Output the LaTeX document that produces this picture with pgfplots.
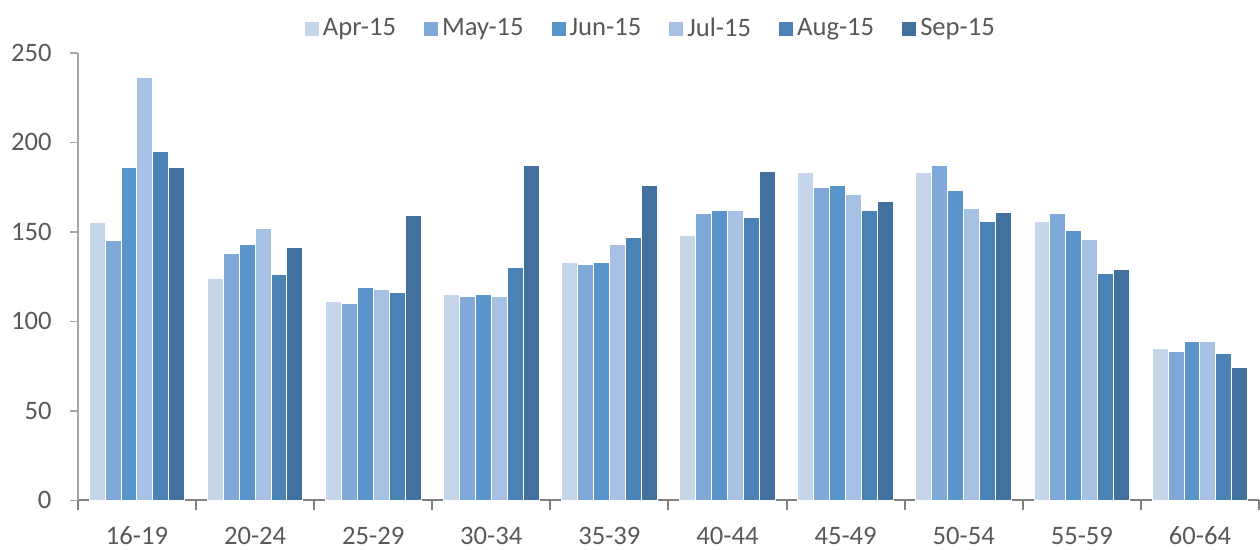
\documentclass[border=0pt]{standalone}
\usepackage{pgfplots}
\pgfplotsset{compat=1.18}
\usepackage{fontspec}
\setmainfont{Carlito}

\definecolor{cApr}{HTML}{C5D5EA}
\definecolor{cMay}{HTML}{7EA9D9}
\definecolor{cJun}{HTML}{5995CB}
\definecolor{cJul}{HTML}{A6C1E4}
\definecolor{cAug}{HTML}{4B82B5}
\definecolor{cSep}{HTML}{41719C}
\definecolor{txt}{HTML}{595959}

\begin{document}
\begin{tikzpicture}
    \begin{axis}[
            scale only axis,
            width=590pt, height=223.5pt,
            ybar=0pt, bar width=0.135,
            ymin=0, ymax=250, ytick={0,50,...,250},
            xmin=-0.5, xmax=9.5,
            xtick={0,...,9},
            xticklabels={16-19,20-24,25-29,30-34,35-39,40-44,45-49,50-54,55-59,60-64},
            minor xtick={-0.5,0.5,...,9.5},
            major x tick style={draw=none},
            minor x tick style={draw=black!50, line width=1pt},
            major tick length=4pt, minor tick length=5pt,
            tick align=outside,
            axis x line*=bottom, axis y line*=left,
            x axis line style={draw=black!50, line width=1pt, -},
            y axis line style={draw=black!35, line width=0.8pt, -},
            y tick style={draw=black!35, line width=0.8pt},
            tick label style={font=\fontsize{13.3}{15}\selectfont, text=txt},
            /pgf/number format/assume math mode=true,
            xticklabel style={yshift=-6.5pt, inner ysep=2.5pt},
            yticklabel style={xshift=-3.5pt, inner xsep=5.5pt},
            legend columns=6,
            legend style={draw=none, fill=none, at={(rel axis cs:0.486,1.054)}, anchor=center,
                inner ysep=7pt,
                font=\fontsize{13.3}{15}\selectfont, text=txt,
                /tikz/every even column/.append style={column sep=12pt}},
            legend image code/.code={\path[#1, draw=none] (0pt,-3.5pt) rectangle (7pt,3.5pt);},
            every axis plot/.append style={draw=white, line width=0.5pt},
        ]
        \addplot[fill=cApr] coordinates {(0,155) (1,124) (2,111) (3,115) (4,133) (5,148) (6,183) (7,183) (8,156) (9,85)};
        \addlegendentry{Apr-15}
        \addplot[fill=cMay] coordinates {(0,145) (1,138) (2,110) (3,114) (4,132) (5,160) (6,175) (7,187) (8,160) (9,83)};
        \addlegendentry{May-15}
        \addplot[fill=cJun] coordinates {(0,186) (1,143) (2,119) (3,115) (4,133) (5,162) (6,176) (7,173) (8,151) (9,89)};
        \addlegendentry{Jun-15}
        \addplot[fill=cJul] coordinates {(0,236) (1,152) (2,118) (3,114) (4,143) (5,162) (6,171) (7,163) (8,146) (9,89)};
        \addlegendentry{Jul-15}
        \addplot[fill=cAug] coordinates {(0,195) (1,126) (2,116) (3,130) (4,147) (5,158) (6,162) (7,156) (8,127) (9,82)};
        \addlegendentry{Aug-15}
        \addplot[fill=cSep] coordinates {(0,186) (1,141) (2,159) (3,187) (4,176) (5,184) (6,167) (7,161) (8,129) (9,74)};
        \addlegendentry{Sep-15}
    \end{axis}
\end{tikzpicture}
\end{document}
